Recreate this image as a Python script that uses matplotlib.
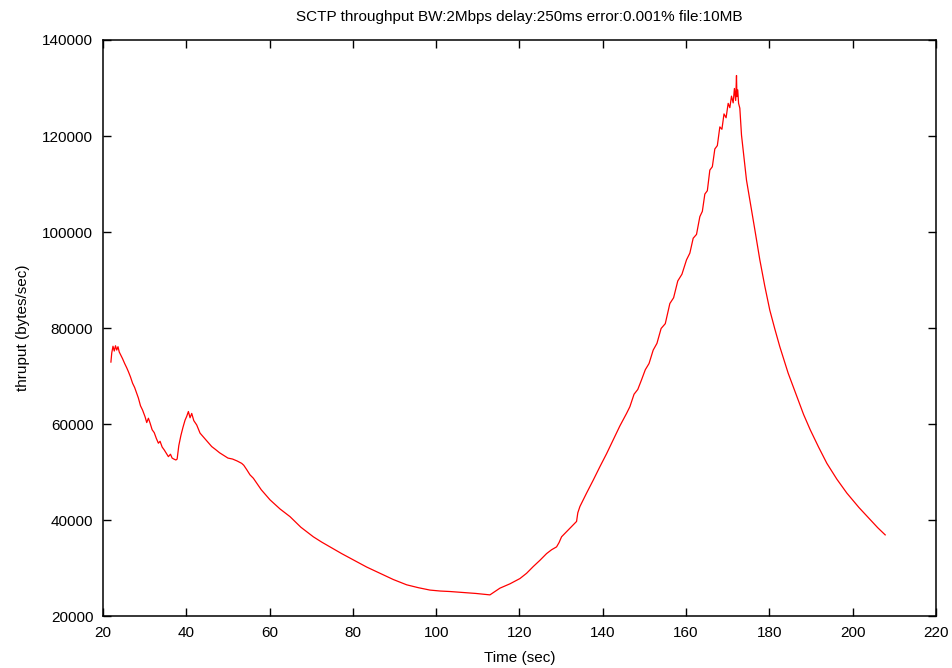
import matplotlib
matplotlib.use('Agg')
import matplotlib.pyplot as plt

# ----------------------------------------------------------------------------------- #
#                                        Data                                         #
# ----------------------------------------------------------------------------------- #

time_sec = [
    # slow start and first drop
    21.9, 22.1, 22.4, 22.7, 23.0, 23.3, 23.6, 23.9, 24.3, 24.7, 25.2, 25.7, 26.1, 26.6,
    27.1, 27.6, 28.1, 28.5, 29.0, 29.5, 30.1, 30.5, 30.9, 31.3, 31.8, 32.3, 32.8, 33.3,
    33.7, 34.2, 34.7, 35.2, 35.7, 36.2, 36.6, 37.0, 37.5, 37.8, 38.2, 38.7, 39.2, 39.7,
    40.1, 40.5, 40.9, 41.3, 41.8, 42.5, 43.3, 44.2, 45.1, 46.1, 47.0, 48.0, 48.9, 50.0,
    51.1, 52.2, 53.3, 53.8, 54.5, 55.3, 56.1,
    # long decay
    58.0, 60.1, 62.5, 64.9, 67.5, 70.5, 72.5, 74.5, 77.3, 80.1, 83.3, 86.5, 89.7, 92.9,
    95.7, 98.5, 101.0, 103.3, 106.4, 109.5, 112.9,
    # recovery
    114.1, 115.3, 117.7, 120.1, 121.7, 123.3, 124.9, 126.5, 127.7, 128.9, 129.5, 130.1,
    131.9, 133.7, 134.0, 134.5, 135.3, 136.1, 137.7, 139.3,
    # ramp up to peak
    140.9, 142.5, 144.1, 145.7, 146.5, 147.5, 148.4, 149.3, 150.2, 151.1, 152.1, 153.0,
    154.0, 155.0, 156.1, 157.0, 158.0, 159.0, 160.1, 160.9, 161.7, 162.5, 163.3, 163.9,
    164.5, 165.1, 165.7, 166.3, 166.9, 167.5, 168.1, 168.6, 169.1, 169.6, 170.1, 170.5,
    170.9, 171.3, 171.6, 171.9, 172.1, 172.2, 172.4, 172.6,
    # final decay
    172.9, 173.3, 174.5, 175.3, 176.5, 177.7, 178.9, 180.1, 181.3, 182.5, 184.5, 186.6,
    188.2, 189.8, 191.8, 193.8, 196.2, 198.6, 201.5, 204.3, 206.0, 207.8,
]

thruput = [
    72900, 74800, 76200, 75200, 76300, 75400, 76100, 75000, 74300, 73600, 72600, 71700, 70900, 69800,
    68500, 67600, 66400, 65400, 63800, 62900, 61500, 60300, 61200, 60200, 58800, 58200, 57000, 56000,
    56400, 55200, 54600, 53900, 53200, 53700, 52900, 52700, 52500, 52700, 55500, 57600, 59300, 60800,
    61600, 62600, 61300, 62200, 60700, 59800, 58100, 57200, 56300, 55300, 54700, 54000, 53500, 52900,
    52700, 52300, 51800, 51400, 50500, 49400, 48700,
    46300, 44200, 42300, 40700, 38500, 36500, 35400, 34400, 33000, 31700, 30200, 28900, 27600, 26500,
    25900, 25400, 25200, 25100, 24900, 24700, 24400,
    25100, 25800, 26700, 27800, 28900, 30300, 31600, 33000, 33800, 34400, 35300, 36500,
    38100, 39700, 41500, 42800, 44200, 45600, 48300, 51100,
    53800, 56700, 59600, 62200, 63600, 66200, 67200, 69200, 71300, 72600, 75400, 76800,
    79900, 80900, 85100, 86300, 89800, 91200, 94200, 95600, 98700, 99500, 103200, 104300,
    107900, 108600, 112900, 113600, 117300, 118000, 121900, 121400, 124600, 123800, 126800, 125900,
    128300, 126900, 129900, 127400, 132600, 128200, 129600, 126800,
    125800, 120200, 110800, 106700, 100500, 94200, 88700, 83700, 79800, 76100, 70600, 65700,
    62000, 58800, 55200, 51800, 48500, 45600, 42600, 40000, 38400, 36900,
]

x_ticks = [20, 40, 60, 80, 100, 120, 140, 160, 180, 200, 220]
y_ticks = [20000, 40000, 60000, 80000, 100000, 120000, 140000]

TITLE = 'SCTP throughput BW:2Mbps delay:250ms error:0.001% file:10MB'

# ----------------------------------------------------------------------------------- #
#                                        Plot                                         #
# ----------------------------------------------------------------------------------- #

plt.rcParams['font.family'] = ['Liberation Sans', 'DejaVu Sans']
plt.rcParams['font.size'] = 11

fig = plt.figure(figsize=(9.53, 6.68), dpi=100)
ax = fig.add_axes([103 / 953, 1 - 616 / 668, (936 - 103) / 953, (616 - 40) / 668])

ax.plot(time_sec, thruput, color='#ff0000', linewidth=0.9)

ax.set_xlim(20, 220)
ax.set_ylim(20000, 140000)
ax.set_xticks(x_ticks)
ax.set_yticks(y_ticks)
ax.set_xticklabels([str(v) for v in x_ticks])
ax.set_yticklabels([str(v) for v in y_ticks])

ax.tick_params(direction='in', length=6, width=1.0, top=True, right=True, colors='black')
ax.tick_params(axis='x', pad=7)
ax.tick_params(axis='y', pad=7)
for spine in ax.spines.values():
    spine.set_linewidth(1.1)

ax.set_title(TITLE, fontsize=11, pad=14)
ax.set_xlabel('Time (sec)', labelpad=8)
ax.set_ylabel('thruput (bytes/sec)', labelpad=9)

fig.savefig('out.png', dpi=100)
